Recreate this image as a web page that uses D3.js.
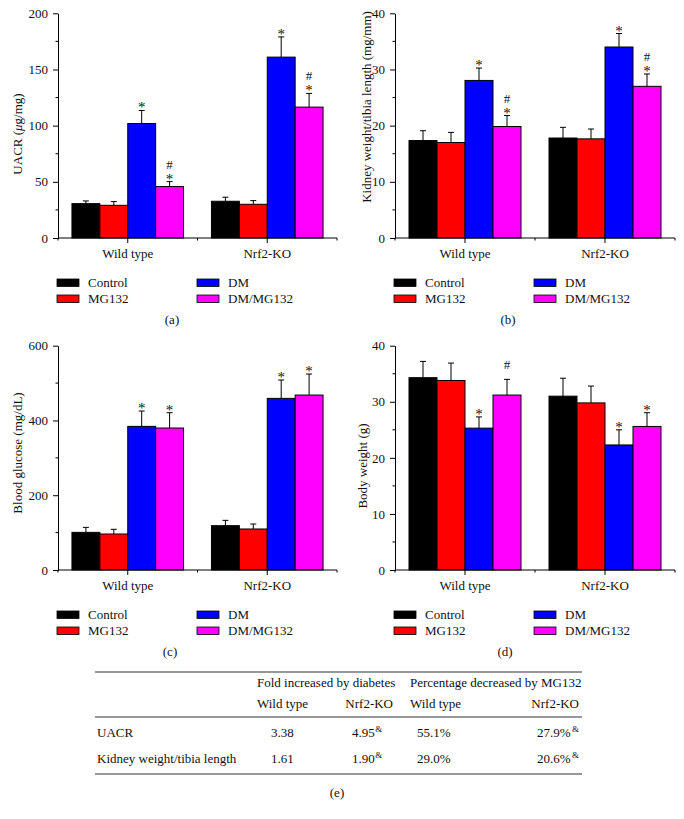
<!DOCTYPE html>
<html>
<head>
<meta charset="utf-8">
<script src="https://cdn.jsdelivr.net/npm/d3@7"></script>
<style>
  html, body { margin: 0; padding: 0; background: #fff; }
  svg { display: block; font-family: "Liberation Serif", "DejaVu Serif", serif; }
  text { fill: #111; }
</style>
</head>
<body>
<svg id="chart" width="684" height="819"></svg>
<script>
// ---------------- DATA ----------------
const groups = ["Wild type", "Nrf2-KO"];
const treatments = ["Control", "MG132", "DM", "DM/MG132"];
const treatmentColors = ["#000000", "#ff0000", "#0000ff", "#ff00ff"];

// order: WT Control, WT MG132, WT DM, WT DM/MG132, KO Control, KO MG132, KO DM, KO DM/MG132
const uacrMean = [30.6, 29.1, 101.9, 45.8, 32.7, 30.0, 161.0, 116.5];
const uacrSD   = [2.4, 3.3, 11.6, 4.4, 3.6, 3.3, 18.0, 12.2];
const uacrMarks = ["", "", "*", "#*", "", "", "*", "#*"];
const uacrTicks = [0, 50, 100, 150, 200];

const kidneyMean = [17.35, 17.0, 28.05, 19.85, 17.8, 17.65, 34.0, 27.0];
const kidneySD   = [1.75, 1.8, 2.2, 1.95, 1.9, 1.75, 2.4, 2.2];
const kidneyMarks = ["", "", "*", "#*", "", "", "*", "#*"];
const kidneyTicks = [0, 10, 20, 30, 40];

const glucoseMean = [100.7, 96.3, 384.2, 379.8, 118.6, 109.7, 459.1, 468.0];
const glucoseSD   = [13.3, 12.5, 41.1, 41.0, 14.2, 13.3, 49.1, 56.2];
const glucoseMarks = ["", "", "*", "*", "", "", "*", "*"];
const glucoseTicks = [0, 200, 400, 600];

const bodyMean = [34.3, 33.8, 25.3, 31.2, 31.0, 29.8, 22.3, 25.6];
const bodySD   = [2.9, 3.1, 2.0, 2.8, 3.2, 3.0, 2.7, 2.45];
const bodyMarks = ["", "", "*", "#", "", "", "*", "*"];
const bodyTicks = [0, 10, 20, 30, 40];

// table (e)
const tableHeader1 = ["Fold increased by diabetes", "Percentage decreased by MG132"];
const tableHeader2 = ["Wild type", "Nrf2-KO", "Wild type", "Nrf2-KO"];
const tableRows = ["UACR", "Kidney weight/tibia length"];
const tableValues = [
  ["3.38", "4.95", "55.1%", "27.9%"],
  ["1.61", "1.90", "29.0%", "20.6%"]
];
const tableSup = [["", "&", "", "&"], ["", "&", "", "&"]];

// ---------------- LAYOUT ----------------
const svg = d3.select("#chart");
const FS = 13;

const panels = [
  { mean: uacrMean, sd: uacrSD, marks: uacrMarks, ticks: uacrTicks, max: 200, minor: 25,
    x0: 58, x1: 337, y0: 13.3, y1: 238, letter: "(a)", letterX: 172,
    ylabel: [{t: "UACR ("}, {t: "\u03BC", i: true}, {t: "g/mg)"}], ylx: 17, yly: 134 },
  { mean: kidneyMean, sd: kidneySD, marks: kidneyMarks, ticks: kidneyTicks, max: 40, minor: 5,
    x0: 395, x1: 675, y0: 13.3, y1: 238, letter: "(b)", letterX: 508,
    ylabel: [{t: "Kidney weight/tibia length (mg/mm)"}], ylx: 366, yly: 107 },
  { mean: glucoseMean, sd: glucoseSD, marks: glucoseMarks, ticks: glucoseTicks, max: 600, minor: 100,
    x0: 58, x1: 337, y0: 345.7, y1: 570, letter: "(c)", letterX: 170,
    ylabel: [{t: "Blood glucose (mg/dL)"}], ylx: 17, yly: 453 },
  { mean: bodyMean, sd: bodySD, marks: bodyMarks, ticks: bodyTicks, max: 40, minor: 5,
    x0: 395, x1: 675, y0: 345.7, y1: 570, letter: "(d)", letterX: 505,
    ylabel: [{t: "Body weight (g)"}], ylx: 362, yly: 466 }
];

panels.forEach(p => {
  const g = svg.append("g");
  const x = d3.scaleBand().domain(groups).range([p.x0, p.x1]).paddingInner(0.2).paddingOuter(0.1);
  const xs = d3.scaleBand().domain(treatments).range([0, x.bandwidth()]);
  const y = d3.scaleLinear().domain([0, p.max]).range([p.y1, p.y0]);

  const rows = [];
  groups.forEach((gr, gi) => treatments.forEach((tr, ti) => {
    const k = gi * 4 + ti;
    rows.push({ gr, tr, ti, m: p.mean[k], sd: p.sd[k], mark: p.marks[k] });
  }));

  // bars
  g.selectAll("rect.bar").data(rows).enter().append("rect")
    .attr("class", "bar")
    .attr("x", d => x(d.gr) + xs(d.tr))
    .attr("y", d => y(d.m))
    .attr("width", xs.bandwidth())
    .attr("height", d => y(0) - y(d.m))
    .attr("fill", d => treatmentColors[d.ti])
    .attr("stroke", "#000").attr("stroke-width", 1);

  // error bars (upper only)
  const cx = d => x(d.gr) + xs(d.tr) + xs.bandwidth() / 2;
  g.selectAll("line.err").data(rows).enter().append("line")
    .attr("x1", cx).attr("x2", cx)
    .attr("y1", d => y(d.m)).attr("y2", d => y(d.m + d.sd))
    .attr("stroke", "#000").attr("stroke-width", 1);
  g.selectAll("line.cap").data(rows).enter().append("line")
    .attr("x1", d => cx(d) - 3).attr("x2", d => cx(d) + 3)
    .attr("y1", d => y(d.m + d.sd)).attr("y2", d => y(d.m + d.sd))
    .attr("stroke", "#000").attr("stroke-width", 1);

  // significance marks
  const star = (xx, yy) => g.append("text").attr("x", xx).attr("y", yy).attr("text-anchor", "middle")
      .attr("font-size", 15).attr("fill", "#222").text("*");
  const hash = (xx, yy) => g.append("text").attr("x", xx).attr("y", yy).attr("text-anchor", "middle")
      .attr("font-size", FS).attr("fill", "#222").text("#");
  rows.forEach(d => {
    const top = y(d.m + d.sd);
    if (d.mark === "*") {
      star(cx(d), top + 2);
    } else if (d.mark === "#*") {
      star(cx(d), top + 2);
      hash(cx(d), top - 13);
    } else if (d.mark === "#") {
      hash(cx(d), top - 10);
    }
  });

  // y axis
  const yAxis = d3.axisLeft(y).tickValues(p.ticks).tickSize(5).tickPadding(5).tickSizeOuter(0);
  const ya = g.append("g").attr("transform", `translate(${p.x0},0)`).call(yAxis);
  ya.selectAll("text").attr("font-size", FS).attr("font-family", "Liberation Serif").attr("fill", "#111");
  ya.select(".domain").attr("stroke", "#000");
  const minorVals = d3.range(0, p.max + 0.001, p.minor).filter(v => !p.ticks.includes(v));
  g.selectAll("line.minor").data(minorVals).enter().append("line")
    .attr("x1", p.x0 - 2.5).attr("x2", p.x0).attr("y1", d => y(d)).attr("y2", d => y(d))
    .attr("stroke", "#000");

  // x axis
  g.append("line").attr("x1", p.x0).attr("x2", p.x1).attr("y1", p.y1).attr("y2", p.y1).attr("stroke", "#000");
  groups.forEach(gr => {
    const c = x(gr) + x.bandwidth() / 2;
    g.append("line").attr("x1", c).attr("x2", c).attr("y1", p.y1).attr("y2", p.y1 + 5).attr("stroke", "#000");
    g.append("text").attr("x", c).attr("y", p.y1 + 20).attr("text-anchor", "middle")
      .attr("font-size", FS).text(gr);
  });
  [p.x0, (p.x0 + p.x1) / 2, p.x1].forEach(v => {
    g.append("line").attr("x1", v).attr("x2", v).attr("y1", p.y1).attr("y2", p.y1 + 2.5).attr("stroke", "#000");
  });

  // y label
  const yl = g.append("text")
    .attr("transform", `translate(${p.ylx},${p.yly}) rotate(-90)`)
    .attr("text-anchor", "middle").attr("dy", "0.35em").attr("font-size", FS);
  p.ylabel.forEach(s => {
    const t = yl.append("tspan").text(s.t);
    if (s.i) t.attr("font-style", "italic");
  });

  // legend
  const lx = p.x0 - 1, ly = p.y1 + 41;
  treatments.forEach((tr, i) => {
    const col = i < 2 ? 0 : 1, row = i % 2;
    const sx = lx + col * 140, sy = ly + row * 16;
    g.append("rect").attr("x", sx).attr("y", sy).attr("width", 22).attr("height", 7.5)
      .attr("fill", treatmentColors[i]).attr("stroke", "#000").attr("stroke-width", 0.8);
    g.append("text").attr("x", sx + 31).attr("y", sy + 8).attr("font-size", FS).text(tr);
  });

  // panel letter
  g.append("text").attr("x", p.letterX).attr("y", p.y1 + 86).attr("text-anchor", "middle")
    .attr("font-size", FS).text(p.letter);
});

// ---------------- TABLE (e) ----------------
const tg = svg.append("g");
const tLeft = 95, tRight = 582;
[672, 717, 774].forEach(yv => {
  tg.append("line").attr("x1", tLeft).attr("x2", tRight).attr("y1", yv).attr("y2", yv)
    .attr("stroke", "#333").attr("stroke-width", 1.2);
});
tg.append("text").attr("x", 257).attr("y", 687).attr("font-size", FS).text(tableHeader1[0]);
tg.append("text").attr("x", 410).attr("y", 687).attr("font-size", FS).text(tableHeader1[1]);
const h2x = [257, 393, 410, 579];
const h2a = ["start", "end", "start", "end"];
tableHeader2.forEach((h, i) => {
  tg.append("text").attr("x", h2x[i]).attr("y", 708).attr("text-anchor", h2a[i]).attr("font-size", FS).text(h);
});
const rowY = [737, 763];
const colX = [271, 352, 417, 537];
tableRows.forEach((r, ri) => {
  tg.append("text").attr("x", 97).attr("y", rowY[ri]).attr("font-size", FS).text(r);
  tableValues[ri].forEach((v, ci) => {
    const t = tg.append("text").attr("x", colX[ci]).attr("y", rowY[ri]).attr("font-size", FS);
    t.append("tspan").text(v);
    if (tableSup[ri][ci]) {
      t.append("tspan").attr("font-size", 9).attr("dy", -5).attr("dx", ci === 3 ? 1.5 : 0.5).text(tableSup[ri][ci]);
    }
  });
});
tg.append("text").attr("x", 337).attr("y", 797).attr("text-anchor", "middle").attr("font-size", FS).text("(e)");
</script>
</body>
</html>
